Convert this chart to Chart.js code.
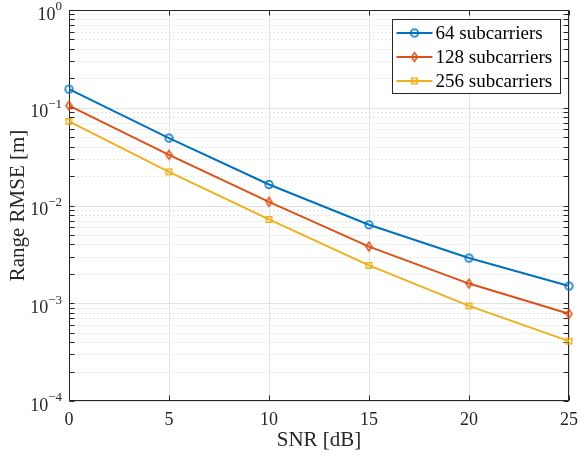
<!DOCTYPE html>
<html>
<head>
<meta charset="utf-8">
<script src="https://cdn.jsdelivr.net/npm/chart.js@4.4.0/dist/chart.umd.min.js"></script>
<style>
  html, body { margin: 0; padding: 0; background: #fff; }
</style>
</head>
<body>
<canvas id="chart" width="579" height="459"></canvas>
<script>
// SNR [dB] on the x axis
const snr = [0, 5, 10, 15, 20, 25];
// range RMSE [m]
const rmse64  = [0.155, 0.049, 0.0164, 0.00635, 0.0029, 0.0015];
const rmse128 = [0.105, 0.033, 0.0109, 0.0038, 0.00159, 0.00078];
const rmse256 = [0.0725, 0.0221, 0.0072, 0.00244, 0.00094, 0.00041];
const seriesNames = ['64 subcarriers', '128 subcarriers', '256 subcarriers'];
const xTicks = [0, 5, 10, 15, 20, 25];
const yDecades = [-4, -3, -2, -1, 0];

const FONT = "'Liberation Serif', 'Times New Roman', serif";
const AXIS = '#262626';
const colors = ['#0072BD', '#D95319', '#EDB120'];
const shapes = ['circle', 'diamond', 'square'];

// matlab style open markers
function marker(shape, color) {
  const c = document.createElement('canvas');
  c.width = 13; c.height = 13;
  const g = c.getContext('2d');
  g.strokeStyle = color;
  g.lineWidth = 1.6;
  g.beginPath();
  if (shape === 'circle') {
    g.arc(6.5, 6.5, 3.7, 0, Math.PI * 2);
  } else if (shape === 'diamond') {
    g.moveTo(6.5, 2.1); g.lineTo(9.5, 6.5); g.lineTo(6.5, 10.9); g.lineTo(3.5, 6.5); g.closePath();
  } else {
    g.rect(3.7, 3.7, 5.6, 5.6);
  }
  g.stroke();
  return c;
}
const markers = shapes.map((s, i) => marker(s, colors[i]));

// y ticks at 1..9 x 10^n
const yTickValues = [];
yDecades.forEach(e => {
  for (let m = 1; m <= 9; m++) {
    const v = m * Math.pow(10, e);
    if (v <= 1) yTickValues.push({ value: v, major: m === 1 });
  }
});

function seg(ctx, x1, y1, x2, y2) {
  ctx.beginPath(); ctx.moveTo(x1, y1); ctx.lineTo(x2, y2); ctx.stroke();
}

const matlabAxes = {
  id: 'matlabAxes',
  beforeDatasetsDraw(chart) {
    const { ctx, chartArea: a, scales: { x, y } } = chart;
    const L = a.left + 0.5, R = a.right - 0.5, T = a.top + 0.5, B = a.bottom - 0.5;
    ctx.save();
    ctx.lineWidth = 1;
    // minor grid, dotted
    ctx.strokeStyle = '#cdcdcd';
    ctx.setLineDash([1, 3]);
    y.ticks.forEach(t => {
      if (t.major) return;
      const py = Math.round(y.getPixelForValue(t.value)) + 0.5;
      seg(ctx, L, py, R, py);
    });
    // major grid
    ctx.setLineDash([]);
    ctx.strokeStyle = '#e2e2e2';
    y.ticks.forEach(t => {
      if (!t.major) return;
      const py = Math.round(y.getPixelForValue(t.value)) + 0.5;
      seg(ctx, L, py, R, py);
    });
    x.ticks.forEach(t => {
      const px = Math.round(x.getPixelForValue(t.value)) + 0.5;
      seg(ctx, px, T, px, B);
    });
    // box and inward ticks
    ctx.strokeStyle = AXIS;
    ctx.strokeRect(L, T, R - L, B - T);
    const tl = 5;
    x.ticks.forEach(t => {
      const px = Math.round(x.getPixelForValue(t.value)) + 0.5;
      seg(ctx, px, B, px, B - tl);
      seg(ctx, px, T, px, T + tl);
    });
    y.ticks.forEach(t => {
      const py = Math.round(y.getPixelForValue(t.value)) + 0.5;
      seg(ctx, L, py, L + tl, py);
      seg(ctx, R, py, R - tl, py);
    });
    // decade labels 10^n
    ctx.fillStyle = AXIS;
    ctx.textAlign = 'right';
    ctx.textBaseline = 'middle';
    yDecades.forEach(e => {
      const py = y.getPixelForValue(Math.pow(10, e));
      const ex = e < 0 ? '\u2212' + (-e) : String(e);
      ctx.font = '13px ' + FONT;
      const w = ctx.measureText(ex).width;
      const xr = a.left - 7;
      ctx.fillText(ex, xr, py - 3);
      ctx.font = '18px ' + FONT;
      ctx.fillText('10', xr - w, py + 5);
    });
    ctx.restore();
  },
  afterDraw(chart) {
    const { ctx, chartArea: a } = chart;
    const bw = 168, bh = 74;
    const bx = a.right - 9 - bw + 0.5, by = a.top + 9 + 0.5;
    ctx.save();
    ctx.fillStyle = '#fff';
    ctx.fillRect(bx, by, bw, bh);
    ctx.strokeStyle = AXIS;
    ctx.lineWidth = 1;
    ctx.strokeRect(bx, by, bw, bh);
    ctx.font = '19px ' + FONT;
    ctx.textAlign = 'left';
    ctx.textBaseline = 'middle';
    chart.data.datasets.forEach((ds, i) => {
      const ly = by + 13.5 + i * 24;
      ctx.strokeStyle = ds.borderColor;
      ctx.lineWidth = 2;
      seg(ctx, bx + 4, ly, bx + 40, ly);
      ctx.drawImage(markers[i], bx + 22 - 6.5, ly - 6.5);
      ctx.fillStyle = '#000';
      ctx.fillText(ds.label, bx + 43, ly + 1);
    });
    ctx.restore();
  }
};

const allSeries = [rmse64, rmse128, rmse256];
const datasets = allSeries.map((vals, i) => ({
  label: seriesNames[i],
  data: snr.map((s, k) => ({ x: s, y: vals[k] })),
  borderColor: colors[i],
  backgroundColor: colors[i],
  borderWidth: 2,
  pointStyle: markers[i],
  pointRadius: 4,
  pointHoverRadius: 4,
  tension: 0,
  clip: false
}));

new Chart(document.getElementById('chart'), {
  type: 'line',
  data: { datasets },
  options: {
    responsive: false,
    devicePixelRatio: 1,
    animation: false,
    layout: { padding: { top: 10, right: 10, left: 0, bottom: 0 } },
    plugins: { legend: { display: false }, tooltip: { enabled: false } },
    scales: {
      x: {
        type: 'linear',
        min: 0,
        max: 25,
        afterBuildTicks: s => { s.ticks = xTicks.map(v => ({ value: v })); },
        afterFit: s => { s.height = 58; s.paddingLeft = 0; s.paddingRight = 0; },
        grid: { display: false, drawTicks: false },
        border: { display: false },
        ticks: { color: AXIS, padding: 8, font: { family: FONT, size: 18 }, autoSkip: false, maxRotation: 0 },
        title: { display: true, text: 'SNR [dB]', color: AXIS, font: { family: FONT, size: 21 }, padding: { top: 0, bottom: 6 } }
      },
      y: {
        type: 'logarithmic',
        min: 1e-4,
        max: 1,
        afterBuildTicks: s => { s.ticks = yTickValues.map(t => ({ value: t.value, major: t.major })); },
        afterFit: s => { s.width = 69; },
        grid: { display: false, drawTicks: false },
        border: { display: false },
        ticks: { display: false, autoSkip: false },
        title: { display: true, text: 'Range RMSE [m]', color: AXIS, font: { family: FONT, size: 21 }, padding: { top: 6, bottom: 0 } }
      }
    }
  },
  plugins: [matlabAxes]
});
</script>
</body>
</html>
